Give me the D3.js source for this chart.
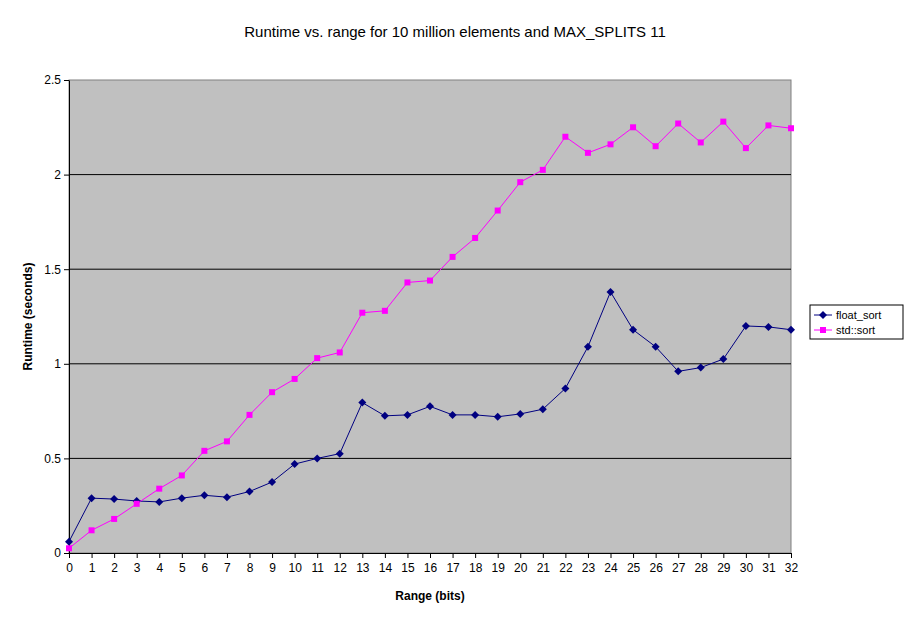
<!DOCTYPE html>
<html><head><meta charset="utf-8">
<script src="https://cdn.jsdelivr.net/npm/d3@7"></script>
<style>body{margin:0;background:#fff;font-family:Arial,"Liberation Sans",sans-serif;}</style>
</head><body><div id="chart"></div>
<script>
const ranges = d3.range(0, 33);
const floatSort = [0.06,0.29,0.285,0.275,0.27,0.29,0.305,0.295,0.325,0.375,0.47,0.50,0.525,0.795,0.725,0.73,0.775,0.73,0.73,0.72,0.735,0.76,0.87,1.09,1.38,1.18,1.09,0.96,0.98,1.025,1.2,1.195,1.18];
const stdSort = [0.025,0.12,0.18,0.26,0.34,0.41,0.54,0.59,0.73,0.85,0.92,1.03,1.06,1.27,1.28,1.43,1.44,1.565,1.665,1.81,1.96,2.025,2.2,2.115,2.16,2.25,2.15,2.27,2.17,2.28,2.14,2.26,2.245];
const yTicks = [0, 0.5, 1, 1.5, 2, 2.5];

const svg = d3.select('#chart').append('svg').attr('width', 911).attr('height', 623);
const pLeft = 69, pRight = 791, pTop = 80, pBottom = 553;
const x = d3.scaleLinear().domain([0, 32]).range([pLeft, pRight]);
const y = d3.scaleLinear().domain([0, 2.5]).range([pBottom, pTop]);

svg.append('rect').attr('x', pLeft).attr('y', pTop).attr('width', pRight - pLeft).attr('height', pBottom - pTop)
    .attr('fill', '#c0c0c0').attr('stroke', '#808080');

// gridlines
svg.append('g').selectAll('line').data(yTicks.slice(1, -1)).join('line')
    .attr('x1', pLeft).attr('x2', pRight).attr('y1', d => y(d)).attr('y2', d => y(d)).attr('stroke', '#000');

// axes
const xa = svg.append('g').attr('transform', `translate(0,${pBottom})`)
    .call(d3.axisBottom(x).tickValues(ranges).tickSize(5).tickSizeOuter(0));
const ya = svg.append('g').attr('transform', `translate(${pLeft},0)`)
    .call(d3.axisLeft(y).tickValues(yTicks).tickFormat(d => d).tickSize(5).tickSizeOuter(0));
[xa, ya].forEach(a => {
    a.select('.domain').attr('stroke', '#000');
    a.selectAll('text').attr('font-size', 12).attr('font-family', 'Arial, "Liberation Sans"').attr('fill', '#000');
});
xa.selectAll('text').attr('dy', '0.9em');

const line = d3.line().x((d, i) => x(ranges[i])).y(d => y(d));
svg.append('path').datum(floatSort).attr('d', line).attr('fill', 'none').attr('stroke', '#000080');
svg.append('path').datum(stdSort).attr('d', line).attr('fill', 'none').attr('stroke', '#ff00ff');

svg.append('g').selectAll('path').data(floatSort).join('path')
    .attr('transform', (d, i) => `translate(${x(ranges[i])},${y(d)})`)
    .attr('d', 'M0,-4L4,0L0,4L-4,0Z').attr('fill', '#000080');
svg.append('g').selectAll('rect').data(stdSort).join('rect')
    .attr('x', (d, i) => x(ranges[i]) - 3).attr('y', d => y(d) - 3).attr('width', 6).attr('height', 6)
    .attr('fill', '#ff00ff');

// titles
svg.append('text').attr('x', 455).attr('y', 37).attr('text-anchor', 'middle').attr('font-size', 15)
    .text('Runtime vs. range for 10 million elements and MAX_SPLITS 11');
svg.append('text').attr('x', 430).attr('y', 600).attr('text-anchor', 'middle').attr('font-size', 12)
    .attr('font-weight', 'bold').text('Range (bits)');
svg.append('text').attr('transform', `translate(32,${(pTop + pBottom) / 2}) rotate(-90)`).attr('text-anchor', 'middle')
    .attr('font-size', 12).attr('font-weight', 'bold').text('Runtime (seconds)');

// legend
const lg = svg.append('g').attr('transform', 'translate(810,305)');
lg.append('rect').attr('width', 93).attr('height', 34).attr('fill', '#fff').attr('stroke', '#000');
const items = [{name: 'float_sort', c: '#000080', shape: 'd'}, {name: 'std::sort', c: '#ff00ff', shape: 's'}];
items.forEach((it, i) => {
    const yy = 10 + i * 15;
    lg.append('line').attr('x1', 4).attr('x2', 22).attr('y1', yy).attr('y2', yy).attr('stroke', it.c);
    if (it.shape === 'd') lg.append('path').attr('transform', `translate(13,${yy})`).attr('d', 'M0,-4L4,0L0,4L-4,0Z').attr('fill', it.c);
    else lg.append('rect').attr('x', 10).attr('y', yy - 3).attr('width', 6).attr('height', 6).attr('fill', it.c);
    lg.append('text').attr('x', 26).attr('y', yy + 4).attr('font-size', 11).text(it.name);
});
</script></body></html>
